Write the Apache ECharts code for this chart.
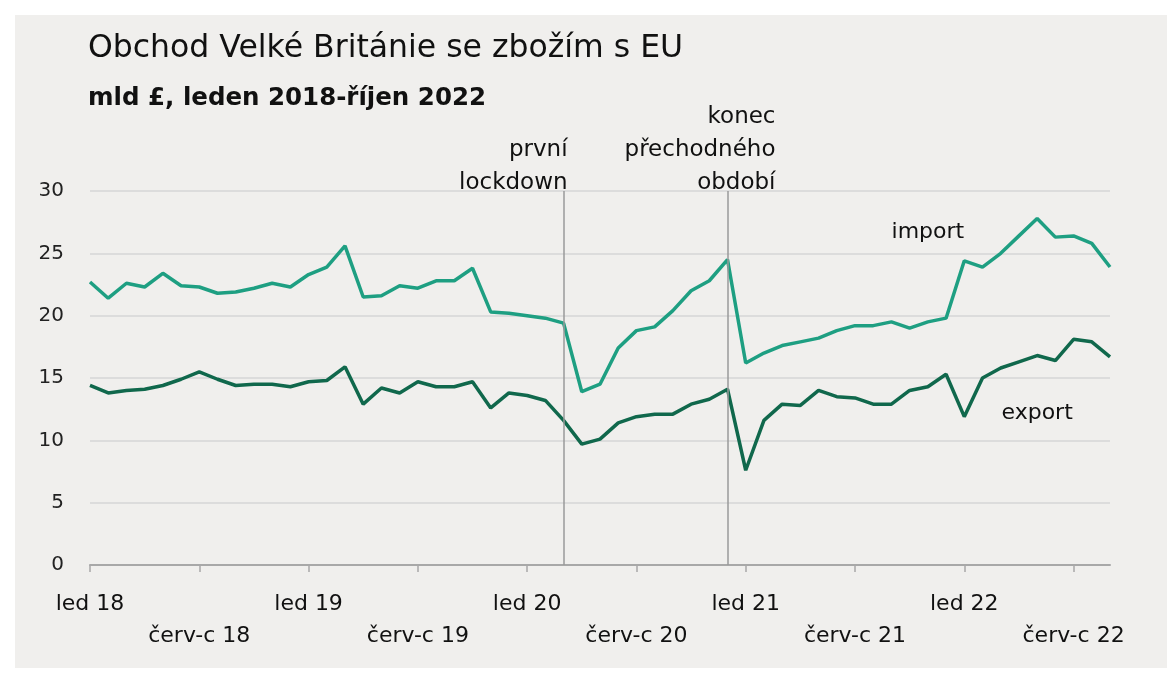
<!DOCTYPE html>
<html><head><meta charset="utf-8">
<script src="https://cdn.jsdelivr.net/npm/echarts@6/dist/echarts.min.js"></script>
<style>html,body{margin:0;padding:0;background:#fff}#c{width:1167px;height:682px}</style>
</head><body><div id="c"></div>
<script>
// Monthly categories, Jan 2018 – Sep 2022
const categories = [
  'led 18','úno 18','bře 18','dub 18','kvě 18','čer 18','červ-c 18','srp 18','zář 18','říj 18','lis 18','pro 18',
  'led 19','úno 19','bře 19','dub 19','kvě 19','čer 19','červ-c 19','srp 19','zář 19','říj 19','lis 19','pro 19',
  'led 20','úno 20','bře 20','dub 20','kvě 20','čer 20','červ-c 20','srp 20','zář 20','říj 20','lis 20','pro 20',
  'led 21','úno 21','bře 21','dub 21','kvě 21','čer 21','červ-c 21','srp 21','zář 21','říj 21','lis 21','pro 21',
  'led 22','úno 22','bře 22','dub 22','kvě 22','čer 22','červ-c 22','srp 22','zář 22'
];
const importValues = [
  22.7,21.4,22.6,22.3,23.4,22.4,22.3,21.8,21.9,22.2,22.6,22.3,
  23.3,23.9,25.6,21.5,21.6,22.4,22.2,22.8,22.8,23.8,20.3,20.2,
  20.0,19.8,19.4,13.9,14.5,17.4,18.8,19.1,20.4,22.0,22.8,24.5,
  16.2,17.0,17.6,17.9,18.2,18.8,19.2,19.2,19.5,19.0,19.5,19.8,
  24.4,23.9,25.0,26.4,27.8,26.3,26.4,25.8,23.9
];
const exportValues = [
  14.4,13.8,14.0,14.1,14.4,14.9,15.5,14.9,14.4,14.5,14.5,14.3,
  14.7,14.8,15.9,12.9,14.2,13.8,14.7,14.3,14.3,14.7,12.6,13.8,
  13.6,13.2,11.6,9.7,10.1,11.4,11.9,12.1,12.1,12.9,13.3,14.1,
  7.6,11.6,12.9,12.8,14.0,13.5,13.4,12.9,12.9,14.0,14.3,15.3,
  11.9,15.0,15.8,16.3,16.8,16.4,18.1,17.9,16.7
];
const yTicks = [0, 5, 10, 15, 20, 25, 30];
const events = [
  { index: 26, text: 'první\nlockdown' },
  { index: 35, text: 'konec\npřechodného\nobdobí' }
];
const seriesLabels = [
  { text: 'import', at: [45.5, 26.7] },
  { text: 'export', at: [52.2, 12.2] }
];

const FONT = '"DejaVu Sans", Verdana, sans-serif';
const chart = echarts.init(document.getElementById('c'), null, { renderer: 'canvas' });

const option = {
  backgroundColor: '#ffffff',
  animation: false,
  textStyle: { fontFamily: FONT },
  graphic: [
    { type: 'rect', z: -10, shape: { x: 15, y: 15, width: 1152, height: 653 }, style: { fill: '#f0efed' } }
  ],
  title: [
    { text: 'Obchod Velké Británie se zbožím s EU', left: 88, top: 33, padding: 0,
      textStyle: { fontFamily: FONT, fontSize: 31.5, fontWeight: 'normal', color: '#111111' } },
    { text: 'mld £, leden 2018-říjen 2022', left: 88, top: 86, padding: 0,
      textStyle: { fontFamily: FONT, fontSize: 24.5, fontWeight: 'bold', color: '#111111' } }
  ],
  grid: { left: 90, right: 57, top: 191, bottom: 117, containLabel: false },
  xAxis: {
    type: 'category',
    data: categories,
    boundaryGap: false,
    axisLine: { lineStyle: { color: '#a8a8a8', width: 2 } },
    axisTick: { show: true, length: 7, interval: (i) => i % 6 === 0, lineStyle: { color: '#a8a8a8', width: 1.5 } },
    axisLabel: {
      interval: (i) => i % 6 === 0,
      margin: 23,
      lineHeight: 32,
      fontSize: 22,
      color: '#111111',
      fontFamily: FONT,
      formatter: (v, i) => (i % 12 === 6 ? '\n' + v : v)
    },
    splitLine: { show: false }
  },
  yAxis: {
    type: 'value',
    min: yTicks[0],
    max: yTicks[yTicks.length - 1],
    interval: 5,
    axisLine: { show: false },
    axisTick: { show: false },
    axisLabel: { fontSize: 20, color: '#222222', margin: 26, fontFamily: FONT },
    splitLine: { lineStyle: { color: '#dcdcdc', width: 2 } }
  },
  series: [
    {
      name: 'import', type: 'line', data: importValues, showSymbol: false,
      lineStyle: { color: '#1e9f82', width: 3.5 }, itemStyle: { color: '#1e9f82' },
      z: 3,
      markLine: {
        silent: true, symbol: 'none', label: { show: false },
        lineStyle: { color: '#9a9a9a', width: 1.5, type: 'solid' },
        data: events.map(e => ({ xAxis: e.index }))
      }
    },
    {
      name: 'export', type: 'line', data: exportValues, showSymbol: false,
      lineStyle: { color: '#10684c', width: 3.5 }, itemStyle: { color: '#10684c' },
      z: 3
    }
  ]
};
chart.setOption(option);

// annotation texts placed through the chart's own scales
const extra = [];
events.forEach((e, k) => {
  const p = chart.convertToPixel({ gridIndex: 0 }, [e.index, 30]);
  extra.push({
    type: 'text', z: 10,
    x: p[0] + (k === 0 ? 4 : 48), y: p[1] + 9,
    style: { text: e.text, font: '23px ' + FONT, fill: '#111111', align: 'right', verticalAlign: 'bottom', lineHeight: 33 }
  });
});
seriesLabels.forEach(s => {
  const p = chart.convertToPixel({ gridIndex: 0 }, s.at);
  extra.push({
    type: 'text', z: 10, x: p[0], y: p[1],
    style: { text: s.text, font: '22px ' + FONT, fill: '#111111', align: 'center', verticalAlign: 'middle' }
  });
});
chart.setOption({ graphic: option.graphic.concat(extra) });
</script>
</body></html>
